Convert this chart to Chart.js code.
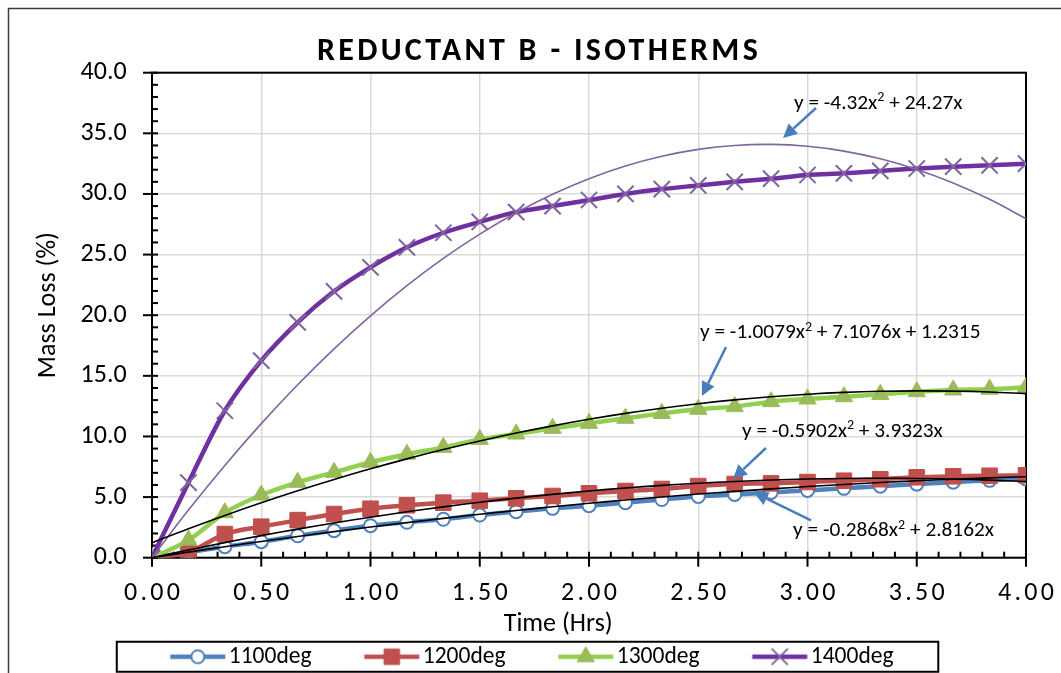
<!DOCTYPE html>
<html>
<head>
<meta charset="utf-8">
<script src="https://cdn.jsdelivr.net/npm/chart.js@4.4.1/dist/chart.umd.min.js"></script>
<style>
  html, body { margin: 0; padding: 0; background: #fff; }
  #wrap { width: 1061px; height: 673px; position: relative; }
</style>
</head>
<body>
<div id="wrap"><canvas id="iso-chart"></canvas></div>
<script>
// sample times (hrs)
const hours = [0, 0.1667, 0.3333, 0.5, 0.6667, 0.8333, 1, 1.1667, 1.3333, 1.5, 1.6667, 1.8333,
               2, 2.1667, 2.3333, 2.5, 2.6667, 2.8333, 3, 3.1667, 3.3333, 3.5, 3.6667, 3.8333, 4];

// mass loss (%) per isotherm
const loss1100 = [0, 0.45, 0.91, 1.32, 1.81, 2.23, 2.64, 2.92, 3.17, 3.52, 3.80, 4.07,
                  4.29, 4.54, 4.80, 5.05, 5.22, 5.38, 5.55, 5.72, 5.90, 6.07, 6.23, 6.38, 6.50];
const loss1200 = [0, 0.45, 1.95, 2.56, 3.10, 3.60, 4.04, 4.32, 4.54, 4.70, 4.90, 5.09,
                  5.31, 5.50, 5.67, 5.91, 6.08, 6.13, 6.24, 6.35, 6.47, 6.63, 6.71, 6.76, 6.80];
const loss1300 = [0, 1.45, 3.71, 5.17, 6.22, 7.04, 7.87, 8.53, 9.10, 9.76, 10.20, 10.67,
                  11.08, 11.50, 11.90, 12.24, 12.46, 12.87, 13.09, 13.28, 13.47, 13.69, 13.83, 13.90, 14.05];
const loss1400 = [0, 6.19, 12.12, 16.25, 19.41, 21.97, 23.95, 25.60, 26.80, 27.70, 28.50, 29.00,
                  29.50, 30.00, 30.40, 30.70, 31.00, 31.26, 31.56, 31.70, 31.90, 32.10, 32.25, 32.36, 32.50];

// polynomial trendlines: [a, b, c] for a*x^2 + b*x + c
const trend1100 = [-0.2868, 2.8162, 0];
const trend1200 = [-0.5902, 3.9323, 0];
const trend1300 = [-1.0079, 7.1076, 1.2315];
const trend1400 = [-4.32, 24.27, 0];

const seriesNames = ['1100deg', '1200deg', '1300deg', '1400deg'];

const FONT = 'Carlito, Lato, sans-serif';

function pts(vals) {
    return hours.map((h, i) => ({ x: h, y: vals[i] }));
}
function trendPts(c) {
    return hours.map(h => ({ x: h, y: c[0] * h * h + c[1] * h + c[2] }));
}

const styles = [
    { line: '#4F81BD', mark: '#4F81BD', fill: '#ffffff', shape: 'circle', r: 6.5, bw: 2 },
    { line: '#C0504D', mark: '#C0504D', fill: '#C0504D', shape: 'rect', r: 11, bw: 1 },
    { line: '#92D050', mark: '#9BBB59', fill: '#9BBB59', shape: 'triangle', r: 10, bw: 1 },
    { line: '#7030A0', mark: '#8064A2', fill: '#8064A2', shape: 'crossRot', r: 11.5, bw: 2 }
];

// little line+marker samples for the legend
function legendGlyph(st) {
    const cv = document.createElement('canvas');
    cv.width = 60;
    cv.height = 26;
    const c = cv.getContext('2d');
    c.strokeStyle = st.line;
    c.lineWidth = 4.5;
    c.beginPath();
    c.moveTo(2.5, 13);
    c.lineTo(57.5, 13);
    c.stroke();
    c.fillStyle = st.fill;
    c.strokeStyle = st.mark;
    c.lineWidth = st.bw;
    Chart.helpers.drawPoint(c, { pointStyle: st.shape, radius: st.r, rotation: 0, borderWidth: st.bw }, 30, 13);
    return cv;
}
const glyphs = styles.map(legendGlyph);

const lossSets = [loss1100, loss1200, loss1300, loss1400];
const trendSets = [trend1100, trend1200, trend1300, trend1400];

const datasets = [];
lossSets.forEach((vals, i) => {
    const st = styles[i];
    datasets.push({
        label: seriesNames[i],
        data: pts(vals),
        borderColor: st.line,
        borderWidth: 4.5,
        cubicInterpolationMode: 'monotone',
        pointStyle: st.shape,
        pointRadius: st.r,
        pointBackgroundColor: st.fill,
        pointBorderColor: st.mark,
        pointBorderWidth: st.bw,
        order: 4 - i
    });
});
trendSets.forEach((c, i) => {
    datasets.push({
        label: 'Poly. (' + seriesNames[i] + ')',
        data: trendPts(c),
        borderColor: i === 3 ? '#8064A2' : '#000000',
        borderWidth: 1.6,
        tension: 0.4,
        pointRadius: 0,
        order: 0
    });
});

// equation labels in axis units
const eqNotes = [
    { parts: ['y = -4.32x', '2', ' + 24.27x'], at: [2.938, 37.42], tail: [3.039, 37.09], tip: [2.888, 34.61] },
    { parts: ['y = -1.0079x', '2', ' + 7.1076x + 1.2315'], at: [2.508, 18.53], tail: [2.627, 17.38], tip: [2.517, 13.34] },
    { parts: ['y = -0.5902x', '2', ' + 3.9323x'], at: [2.700, 10.37], tail: [2.810, 9.05], tip: [2.659, 6.49] },
    { parts: ['y = -0.2868x', '2', ' + 2.8162x'], at: [2.934, 2.20], tail: [3.016, 3.07], tip: [2.755, 5.38] }
];

const outerFrame = {
    id: 'outerFrame',
    beforeDraw(chart) {
        const ctx = chart.ctx;
        ctx.save();
        ctx.strokeStyle = '#3c3c3c';
        ctx.lineWidth = 1.5;
        ctx.beginPath();
        ctx.moveTo(8.5, chart.height + 10);
        ctx.lineTo(8.5, 8.5);
        ctx.lineTo(chart.width + 10, 8.5);
        ctx.stroke();
        ctx.restore();
    }
};

// plot frame with major/minor tick marks
const plotFrame = {
    id: 'plotFrame',
    beforeDatasetsDraw(chart) {
        const { ctx, chartArea: a, scales: { x, y } } = chart;
        ctx.save();
        ctx.strokeStyle = '#000';
        ctx.lineWidth = 2;
        ctx.strokeRect(a.left, a.top, a.right - a.left, a.bottom - a.top);
        for (let v = 0; v <= 40; v++) {
            const py = y.getPixelForValue(v);
            const major = v % 5 === 0;
            ctx.beginPath();
            ctx.moveTo(a.left - (major ? 9 : 0), py);
            ctx.lineTo(a.left + 6, py);
            ctx.stroke();
        }
        for (let k = 0; k <= 40; k++) {
            const px = x.getPixelForValue(k / 10);
            const major = k % 5 === 0;
            ctx.beginPath();
            ctx.moveTo(px, a.bottom + (major ? 9 : 0));
            ctx.lineTo(px, a.bottom - 6);
            ctx.stroke();
        }
        ctx.restore();
    }
};

function drawArrow(ctx, x0, y0, x1, y1) {
    const ang = Math.atan2(y1 - y0, x1 - x0);
    const hl = 14, hw = 7;
    const bx = x1 - hl * Math.cos(ang), by = y1 - hl * Math.sin(ang);
    ctx.beginPath();
    ctx.moveTo(x0, y0);
    ctx.lineTo(bx, by);
    ctx.stroke();
    ctx.beginPath();
    ctx.moveTo(x1, y1);
    ctx.lineTo(bx + hw * Math.sin(ang), by - hw * Math.cos(ang));
    ctx.lineTo(bx - hw * Math.sin(ang), by + hw * Math.cos(ang));
    ctx.closePath();
    ctx.fill();
}

const equations = {
    id: 'equations',
    afterDatasetsDraw(chart) {
        const { ctx, scales: { x, y } } = chart;
        ctx.save();
        ctx.textBaseline = 'middle';
        ctx.textAlign = 'left';
        eqNotes.forEach(n => {
            let px = x.getPixelForValue(n.at[0]);
            const py = y.getPixelForValue(n.at[1]);
            n.parts.forEach((t, j) => {
                const sup = j === 1;
                ctx.font = (sup ? 14 : 21.3) + 'px ' + FONT;
                ctx.fillStyle = '#000';
                ctx.fillText(t, px, sup ? py - 6 : py);
                px += ctx.measureText(t).width;
            });
            ctx.strokeStyle = '#4A7EBB';
            ctx.fillStyle = '#4A7EBB';
            ctx.lineWidth = 2.5;
            drawArrow(ctx, x.getPixelForValue(n.tail[0]), y.getPixelForValue(n.tail[1]),
                      x.getPixelForValue(n.tip[0]), y.getPixelForValue(n.tip[1]));
        });
        ctx.restore();
    }
};

// spaced lettering for the title and time ticks, nudged axis titles
const textTweaks = {
    id: 'textTweaks',
    beforeDraw(chart) {
        const sx = chart.scales.x, sy = chart.scales.y, tb = chart.titleBlock;
        if (!sx._tweaked) {
            sx._computeLabelArea = () => undefined;
            const lab = sx.drawLabels;
            sx.drawLabels = function (area) {
                const c = this.ctx;
                c.save();
                c.letterSpacing = '3.3px';
                c.translate(1.65, 0);
                lab.call(this, area);
                c.restore();
            };
            const xt = sx.drawTitle;
            sx.drawTitle = function () {
                const c = this.ctx;
                c.save();
                c.translate(-30.8, 0);
                xt.call(this);
                c.restore();
            };
            sx._tweaked = true;
        }
        if (!sy._tweaked) {
            const yt = sy.drawTitle;
            sy.drawTitle = function () {
                const c = this.ctx;
                c.save();
                c.translate(0, -10);
                yt.call(this);
                c.restore();
            };
            sy._tweaked = true;
        }
        if (tb && !tb._tweaked) {
            const td = tb.draw;
            tb.draw = function (area) {
                const c = this.ctx;
                c.save();
                c.letterSpacing = '3.3px';
                c.translate(3, 0);
                td.call(this, area);
                c.restore();
            };
            tb._tweaked = true;
        }
    }
};

// box round the legend entries
const legendBox = {
    id: 'legendBox',
    afterDraw(chart) {
        const hb = chart.legend && chart.legend.legendHitBoxes;
        if (!hb || !hb.length) return;
        const first = hb[0], last = hb[hb.length - 1];
        const left = first.left - 61.75;
        const right = last.left + last.width + 44.8;
        const cy = first.top + first.height / 2;
        const ctx = chart.ctx;
        ctx.save();
        ctx.strokeStyle = '#000';
        ctx.lineWidth = 2;
        ctx.strokeRect(left, cy - 15, right - left, 30);
        ctx.restore();
    }
};

Chart.defaults.font.family = FONT;
Chart.defaults.color = '#000';

const ctx = document.getElementById('iso-chart').getContext('2d');
window.isoChart = new Chart(ctx, {
    type: 'line',
    data: { datasets: datasets },
    plugins: [outerFrame, plotFrame, equations, textTweaks, legendBox],
    options: {
        responsive: true,
        maintainAspectRatio: false,
        animation: false,
        layout: { padding: { top: 0, left: 11, right: 0, bottom: -5.5 } },
        plugins: {
            tooltip: { enabled: false },
            title: {
                display: true,
                text: 'REDUCTANT B - ISOTHERMS',
                color: '#000',
                font: { family: FONT, size: 32, weight: 'bold' },
                padding: { top: 32.3, bottom: 2 }
            },
            legend: {
                position: 'bottom',
                labels: {
                    usePointStyle: true,
                    pointStyleWidth: 38.5,
                    padding: 61,
                    color: '#000',
                    font: { family: FONT, size: 23.5 },
                    filter: item => item.datasetIndex < 4,
                    sort: (a, b) => a.datasetIndex - b.datasetIndex,
                    generateLabels(chart) {
                        const items = Chart.defaults.plugins.legend.labels.generateLabels(chart);
                        items.forEach(it => {
                            if (it.datasetIndex < 4) it.pointStyle = glyphs[it.datasetIndex];
                        });
                        return items;
                    }
                }
            }
        },
        scales: {
            x: {
                type: 'linear',
                min: 0,
                max: 4,
                ticks: {
                    stepSize: 0.5,
                    padding: 20,
                    color: '#000',
                    font: { family: FONT, size: 26 },
                    maxRotation: 0,
                    callback: v => Number(v).toFixed(2)
                },
                grid: { color: '#d9d9d9', lineWidth: 1.5, drawTicks: false },
                border: { display: false },
                title: {
                    display: true,
                    text: 'Time (Hrs)',
                    color: '#000',
                    font: { family: FONT, size: 26 },
                    padding: { top: 0, bottom: -56.5 }
                },
                afterFit(scale) {
                    scale.height = 26.3;
                    scale.paddingRight = 35;
                    scale.paddingLeft = 0;
                }
            },
            y: {
                type: 'linear',
                min: 0,
                max: 40,
                ticks: {
                    stepSize: 5,
                    padding: 25.3,
                    color: '#000',
                    font: { family: FONT, size: 26 },
                    callback: v => Number(v).toFixed(1)
                },
                grid: { color: '#d9d9d9', lineWidth: 1.5, drawTicks: false },
                border: { display: false },
                title: {
                    display: true,
                    text: 'Mass Loss (%)',
                    color: '#000',
                    font: { family: FONT, size: 26 },
                    padding: { top: 21.6, bottom: 0 }
                },
                afterFit(scale) {
                    scale.width = 141;
                }
            }
        }
    }
});
</script>
</body>
</html>
